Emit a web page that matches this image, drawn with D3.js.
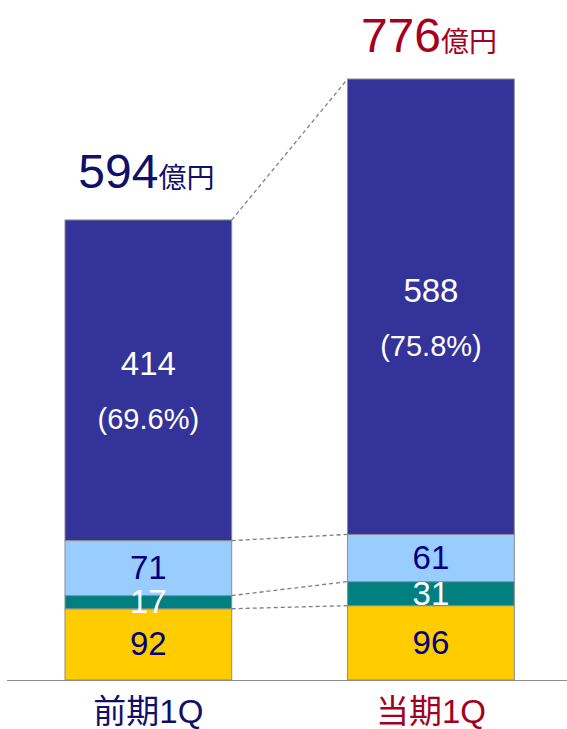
<!DOCTYPE html>
<html>
<head>
<meta charset="utf-8">
<script src="https://cdn.jsdelivr.net/npm/d3@7/dist/d3.min.js"></script>
<style>
  html, body { margin: 0; padding: 0; background: #ffffff; }
  svg { display: block; }
  text { font-family: "Liberation Sans", Arial, "Noto Sans CJK JP", sans-serif; }
</style>
</head>
<body>
<svg id="chart" width="567" height="729"></svg>
<script>
// ---- data ----
const categories = ["前期1Q", "当期1Q"];
const seriesKeys = ["s1", "s2", "s3", "s4"];           // bottom -> top
const s1Values = [92, 96];
const s2Values = [17, 31];
const s3Values = [71, 61];
const s4Values = [414, 588];
const totals = [594, 776];
const totalUnit = "億円";
const shareLabels = ["(69.6%)", "(75.8%)"];

// ---- styles ----
const fillColors = { s1: "#FFCC00", s2: "#008080", s3: "#99CCFF", s4: "#333399" };
const labelColors = { s1: "#000080", s2: "#ffffff", s3: "#000080", s4: "#ffffff" };
const catColors = ["#10106a", "#A50021"];
const fontCJK = "\"Liberation Sans\", Arial, \"Noto Sans CJK JP\", sans-serif";

const rows = categories.map((c, i) => ({
  cat: c, s1: s1Values[i], s2: s2Values[i], s3: s3Values[i], s4: s4Values[i]
}));

const svg = d3.select("#chart");

const x = d3.scaleBand().domain(categories).range([65, 514.3]).paddingInner(0.41).paddingOuter(0);
const y = d3.scaleLinear().domain([0, 776]).range([680, 79]);

const stacked = d3.stack().keys(seriesKeys)(rows);

// connecting dashed lines (right edge of left bar to left edge of right bar)
const dashG = svg.append("g");
[3, 2, 1, 0].forEach(li => {
  const L = stacked[li];
  dashG.append("line")
    .attr("x1", x(categories[0]) + x.bandwidth())
    .attr("y1", y(L[0][1]))
    .attr("x2", x(categories[1]))
    .attr("y2", y(L[1][1]))
    .attr("stroke", "#7f7f7f")
    .attr("stroke-width", 1.3)
    .attr("stroke-dasharray", "4,3");
});

// bars
const layerG = svg.selectAll("g.layer").data(stacked).join("g")
  .attr("class", "layer")
  .attr("fill", d => fillColors[d.key]);

layerG.selectAll("rect").data(d => d).join("rect")
  .attr("x", d => x(d.data.cat))
  .attr("y", d => y(d[1]))
  .attr("width", x.bandwidth())
  .attr("height", d => y(d[0]) - y(d[1]))
  .attr("stroke", "#8c8c8c")
  .attr("stroke-width", 1);

// segment labels
stacked.forEach(L => {
  L.forEach((d, i) => {
    const cx = x(d.data.cat) + x.bandwidth() / 2;
    const cy = (y(d[0]) + y(d[1])) / 2;
    const val = d[1] - d[0];
    if (L.key === "s4") {
      svg.append("text")
        .attr("x", cx).attr("y", cy - 5)
        .attr("text-anchor", "middle")
        .attr("fill", labelColors[L.key])
        .attr("font-size", 33)
        .text(val);
      svg.append("text")
        .attr("x", cx).attr("y", cy + 49)
        .attr("text-anchor", "middle")
        .attr("fill", labelColors[L.key])
        .attr("font-size", 29)
        .text(shareLabels[i]);
    } else {
      svg.append("text")
        .attr("x", cx).attr("y", cy + 11)
        .attr("text-anchor", "middle")
        .attr("fill", labelColors[L.key])
        .attr("font-size", 33)
        .text(val);
    }
  });
});

// totals above bars
categories.forEach((c, i) => {
  const cx = x(c) + x.bandwidth() / 2 - 2;
  const t = svg.append("text")
    .attr("x", cx)
    .attr("y", y(totals[i]) - (i === 0 ? 32 : 27))
    .attr("text-anchor", "middle")
    .attr("fill", catColors[i]);
  t.append("tspan").attr("font-size", 48).text(totals[i]);
  t.append("tspan").attr("font-size", 28).style("font-family", fontCJK).text(totalUnit);
});

// baseline
svg.append("line")
  .attr("x1", 7).attr("x2", 567)
  .attr("y1", y(0) + 0.5).attr("y2", y(0) + 0.5)
  .attr("stroke", "#8c8c8c").attr("stroke-width", 1);

// category axis labels
const xAxis = d3.axisBottom(x).tickSize(0).tickPadding(0);
const axG = svg.append("g").attr("transform", `translate(0, ${y(0)})`).call(xAxis);
axG.select(".domain").remove();
axG.selectAll("text")
  .attr("y", 43)
  .attr("dy", 0)
  .attr("font-size", 33)
  .style("font-family", fontCJK)
  .attr("fill", (d, i) => catColors[i]);
</script>
</body>
</html>
